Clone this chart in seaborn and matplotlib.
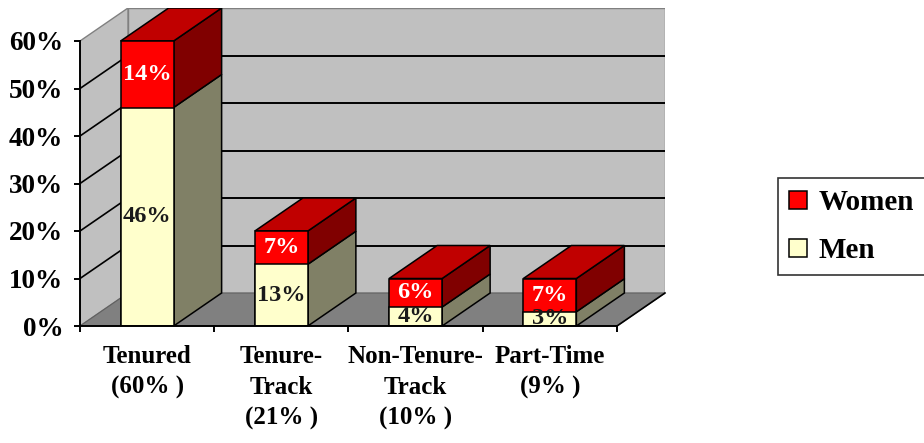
import numpy as np
import pandas as pd
import matplotlib
matplotlib.use("Agg")
import matplotlib.pyplot as plt
from matplotlib.patches import Polygon, Rectangle
import seaborn as sns

# ---- data ----
categories = ["Tenured", "Tenure-Track", "Non-Tenure-Track", "Part-Time"]
tick_labels = ["Tenured\n(60% )", "Tenure-\nTrack\n(21% )", "Non-Tenure-\nTrack\n(10% )", "Part-Time\n(9% )"]
men = [46, 13, 4, 3]
women = [14, 7, 6, 7]
men_labels = ["46%", "13%", "4%", "3%"]
women_labels = ["14%", "7%", "6%", "7%"]
series_names = ["Women", "Men"]
y_ticks = [0, 10, 20, 30, 40, 50, 60]
y_tick_labels = ["0%", "10%", "20%", "30%", "40%", "50%", "60%"]

totals = [m + w for m, w in zip(men, women)]
df = pd.DataFrame({"category": categories, "men": men, "women": women, "total": totals})

# ---- style ----
FONT = ["Liberation Serif", "DejaVu Serif"]
plt.rcParams["font.family"] = FONT
plt.rcParams["font.weight"] = "bold"

RED = "#FF0000"
RED_TOP = "#C00000"
RED_SIDE = "#800000"
YEL = "#FFFFCC"
YEL_SIDE = "#808066"
WALL = "#C0C0C0"
FLOOR = "#808080"

W, H = 924, 443
fig = plt.figure(figsize=(W / 100, H / 100), dpi=100)
ax = fig.add_axes([80 / W, (H - 326) / H, 585 / W, 318 / H])

YMAX = 60
DX = 48 / 134.25   # depth offset in x data units
DY = 33 / 4.75     # depth offset in y data units
BAR_W = 53 / 134.25

# front faces via seaborn
sns.barplot(data=df, x="category", y="total", color=RED, saturation=1,
            edgecolor="black", linewidth=1.1, width=BAR_W, ax=ax, zorder=3)
red_bars = list(ax.patches)
sns.barplot(data=df, x="category", y="men", color=YEL, saturation=1,
            edgecolor="black", linewidth=1.1, width=BAR_W, ax=ax, zorder=3.1)
men_bars = list(ax.patches)[len(red_bars):]

x0, x1 = -0.5, len(categories) - 0.5

# walls and floor
ax.add_patch(Rectangle((x0 + DX, DY), x1 - x0, YMAX, facecolor=WALL,
                       edgecolor="#808080", linewidth=1, zorder=0))
ax.add_patch(Polygon([(x0, 0), (x0 + DX, DY), (x0 + DX, YMAX + DY), (x0, YMAX)],
                     closed=True, facecolor=WALL, edgecolor="#808080", linewidth=1, zorder=0))
ax.add_patch(Polygon([(x0, 0), (x1, 0), (x1 + DX, DY), (x0 + DX, DY)],
                     closed=True, facecolor=FLOOR, edgecolor="#606060", linewidth=0.8, zorder=0.5))
ax.plot([x1, x1 + DX], [0, DY], color="black", lw=1.2, zorder=0.6, clip_on=False)
for t in y_ticks[1:-1]:
    ax.plot([x0 + DX, x1 + DX], [t + DY, t + DY], color="black", lw=1.4, zorder=1)
    ax.plot([x0, x0 + DX], [t, t + DY], color="black", lw=1.2, zorder=1)

# 3D side and top faces derived from the seaborn bars
for rb, mb in zip(red_bars, men_bars):
    bx, bw = rb.get_x(), rb.get_width()
    tot, mh = rb.get_height(), mb.get_height()
    r = bx + bw
    ax.add_patch(Polygon([(r, 0), (r + DX, DY), (r + DX, mh + DY), (r, mh)], closed=True,
                         facecolor=YEL_SIDE, edgecolor="black", linewidth=1.1, zorder=2.5))
    ax.add_patch(Polygon([(r, mh), (r + DX, mh + DY), (r + DX, tot + DY), (r, tot)], closed=True,
                         facecolor=RED_SIDE, edgecolor="black", linewidth=1.1, zorder=2.5))
    ax.add_patch(Polygon([(bx, tot), (r, tot), (r + DX, tot + DY), (bx + DX, tot + DY)], closed=True,
                         facecolor=RED_TOP, edgecolor="black", linewidth=1.1, zorder=2.5))

# value labels
for i, (rb, mb) in enumerate(zip(red_bars, men_bars)):
    cx = rb.get_x() + rb.get_width() / 2
    mh, tot = mb.get_height(), rb.get_height()
    t = ax.text(cx, mh / 2, men_labels[i], ha="center", va="center", fontsize=17.5,
                fontweight="bold", color="#1a1a1a", zorder=4)
    t.set_clip_path(mb)
    ax.text(cx, (mh + tot) / 2, women_labels[i], ha="center", va="center", fontsize=17.5,
            fontweight="bold", color="white", zorder=4)

# axes
ax.set_xlim(x0, x1 + DX)
ax.set_ylim(0, YMAX + DY)
for s in ["top", "right"]:
    ax.spines[s].set_visible(False)
ax.spines["left"].set_bounds(0, YMAX)
ax.spines["bottom"].set_bounds(x0, x1)
for s in ["left", "bottom"]:
    ax.spines[s].set_linewidth(1.4)
    ax.spines[s].set_zorder(5)
ax.set_yticks(y_ticks)
ax.set_yticklabels(y_tick_labels)
ax.tick_params(axis="y", length=4, width=1.4, pad=8, labelsize=19.5)
ax.set_xticks(np.arange(len(categories) + 1) - 0.5)
ax.set_xticklabels([])
ax.set_xticks(np.arange(len(categories)), minor=True)
ax.set_xticklabels(tick_labels, minor=True, fontsize=18, fontweight="bold",
                   linespacing=1.42, va="top")
ax.tick_params(axis="x", which="major", length=4, width=1.4)
ax.tick_params(axis="x", which="minor", length=0, pad=14)
for lab in ax.get_yticklabels():
    lab.set_fontweight("bold")
ax.set_xlabel("")
ax.set_ylabel("")
ax.grid(False)
ax.set_facecolor("none")

# legend
leg = ax.legend(handles=[red_bars[0], men_bars[0]], labels=series_names,
                loc="upper left", bbox_to_anchor=(778 / W, 1 - 178 / H),
                bbox_transform=fig.transFigure, borderaxespad=0,
                prop={"family": FONT, "weight": "bold", "size": 21},
                handlelength=0.6, handleheight=0.6, handletextpad=0.4,
                labelspacing=0.72, borderpad=0.38, fancybox=False, frameon=True)
leg.get_frame().set_edgecolor("black")
leg.get_frame().set_linewidth(1.2)

fig.savefig("out.png", dpi=100, facecolor="white")
